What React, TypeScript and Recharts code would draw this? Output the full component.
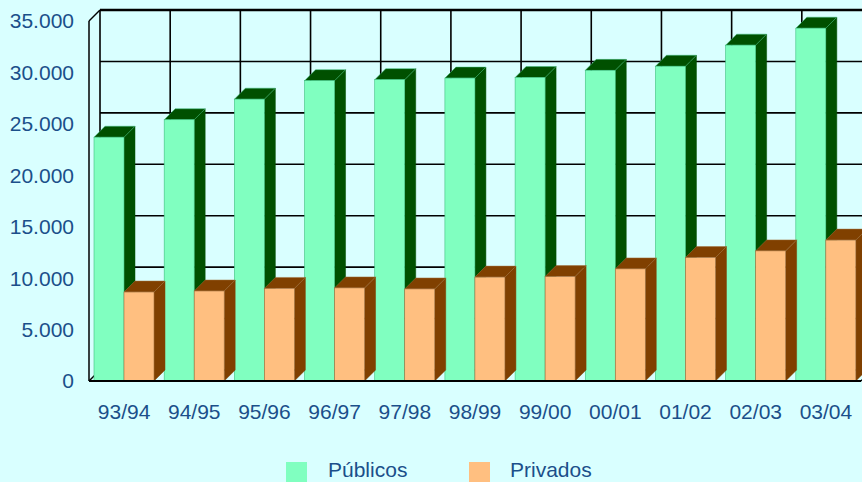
import React from 'react';
import { BarChart, Bar, XAxis, YAxis, CartesianGrid, Legend, Customized } from 'recharts';

const categories = ['93/94', '94/95', '95/96', '96/97', '97/98', '98/99', '99/00', '00/01', '01/02', '02/03', '03/04'];
const publicos = [23700, 25400, 27400, 29200, 29300, 29450, 29500, 30200, 30600, 32650, 34300];
const privados = [8650, 8750, 9000, 9050, 8950, 10100, 10150, 10900, 12000, 12650, 13700];
const yTicks = [0, 5000, 10000, 15000, 20000, 25000, 30000, 35000];
const seriesNames = ['Públicos', 'Privados'];

const data = categories.map((c, i) => ({ cat: c, publicos: publicos[i], privados: privados[i] }));

const W = 862;
const H = 482;
const Y_W = 89;
const X_H = 30;
const PLOT = { left: 89, top: 21, right: 861, bottom: 381 };
const M = { top: PLOT.top, right: W - PLOT.right, bottom: H - PLOT.bottom - X_H, left: PLOT.left - Y_W };
const D = 11;
const TEXT = '#1B4F8A';
const FONT = '"Liberation Sans", Arial, sans-serif';
const FS = 21;
const BG = '#D9FFFF';
const COLORS = [
  { front: '#80FFC0', dark: '#005000', edge: '#3FBF7F' },
  { front: '#FFBF80', dark: '#804000', edge: '#A0703F' },
];

const fmt = (v: number) => String(v).replace(/\B(?=(\d{3})+(?!\d))/g, '.');

function make3D(c: { front: string; dark: string; edge: string }) {
  return (props: any) => {
    const { x, y, width, height } = props;
    if (x == null || width == null || height == null) return null;
    const r = x + width;
    const b = y + height;
    return (
      <g>
        <polygon points={`${r},${y} ${r + D},${y - D} ${r + D},${b - D} ${r},${b}`} fill={c.dark} stroke={c.dark} strokeWidth={0.5} />
        <polygon points={`${x},${y} ${x + D},${y - D} ${r + D},${y - D} ${r},${y}`} fill={c.dark} stroke={c.edge} strokeWidth={0.5} />
        <rect x={x} y={y} width={width} height={height} fill={c.front} stroke={c.edge} strokeWidth={0.6} />
      </g>
    );
  };
}

const Frame = () => {
  const l = PLOT.left;
  const t = PLOT.top;
  const b = PLOT.bottom;
  const r = PLOT.right;
  return (
    <g>
      <line x1={l} y1={t} x2={l + D} y2={t - D} stroke="#000" strokeWidth={1.5} />
      <line x1={l} y1={b} x2={l + D} y2={b - D} stroke="#000" strokeWidth={1.5} />
      <line x1={r} y1={b} x2={r + D} y2={b - D} stroke="#000" strokeWidth={1.5} />
      <line x1={l + D} y1={t - D} x2={W} y2={t - D} stroke="#000" strokeWidth={2.5} />
    </g>
  );
};

const LegendContent = () => (
  <div style={{ position: 'relative', width: W, height: 27, fontFamily: FONT, fontSize: FS, color: TEXT }}>
    {seriesNames.map((n, i) => (
      <React.Fragment key={n}>
        <div style={{ position: 'absolute', left: i === 0 ? 286 : 469, top: 7, width: 21, height: 21, background: COLORS[i].front }} />
        <div style={{ position: 'absolute', left: i === 0 ? 328 : 510, top: 4, lineHeight: '21px', whiteSpace: 'nowrap' }}>{n}</div>
      </React.Fragment>
    ))}
  </div>
);

export default function App() {
  return (
    <div style={{ width: W, height: H, background: BG, position: 'relative' }}>
      <style>{`body{margin:0;background:${BG}} .recharts-cartesian-grid{transform:translate(${D}px,-${D}px)}`}</style>
      <BarChart width={W} height={H} data={data} margin={M} barCategoryGap={5} barGap={0}>
        <CartesianGrid
          stroke="#000"
          strokeWidth={1.6}
          verticalCoordinatesGenerator={(p: any) => {
            const off = (p && p.offset) || { left: PLOT.left, width: PLOT.right - PLOT.left };
            return Array.from({ length: categories.length + 1 }, (_, i) => off.left + (i * off.width) / categories.length);
          }}
        />
        <XAxis
          dataKey="cat"
          height={X_H}
          tickLine={false}
          tickSize={0}
          tickMargin={23}
          axisLine={{ stroke: '#000', strokeWidth: 2 }}
          tick={{ fill: TEXT, fontSize: FS, fontFamily: FONT }}
          interval={0}
        />
        <YAxis
          domain={[0, 35000]}
          ticks={yTicks}
          interval={0}
          tickLine={false}
          tickSize={0}
          tickMargin={15}
          tickFormatter={fmt}
          axisLine={{ stroke: '#000', strokeWidth: 1.5 }}
          tick={{ fill: TEXT, fontSize: FS, fontFamily: FONT }}
          width={Y_W}
        />
        <Bar dataKey="publicos" name={seriesNames[0]} fill={COLORS[0].front} shape={make3D(COLORS[0])} isAnimationActive={false} />
        <Bar dataKey="privados" name={seriesNames[1]} fill={COLORS[1].front} shape={make3D(COLORS[1])} isAnimationActive={false} />
        <Customized component={Frame} />
        <Legend
          layout="horizontal"
          verticalAlign="middle"
          align="center"
          wrapperStyle={{ position: 'absolute', top: 455, left: 0, width: W, height: 27 }}
          content={LegendContent}
        />
      </BarChart>
    </div>
  );
}
